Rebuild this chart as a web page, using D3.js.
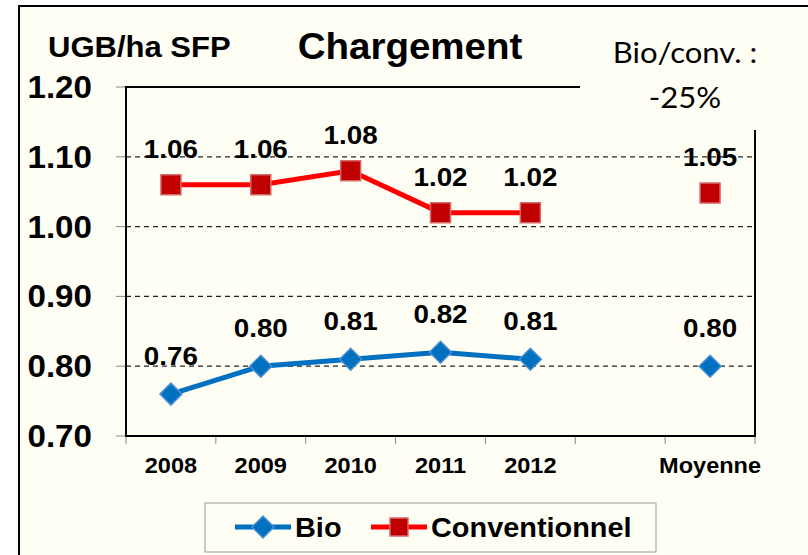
<!DOCTYPE html>
<html>
<head>
<meta charset="utf-8">
<script src="https://cdn.jsdelivr.net/npm/d3@7"></script>
<style>
  body { margin: 0; background: #fff; }
  svg { display: block; }
</style>
</head>
<body>
<div id="chart"></div>
<script>
var categories = ["2008", "2009", "2010", "2011", "2012", "", "Moyenne"]
var bio = [0.76, 0.80, 0.81, 0.82, 0.81, null, 0.80]
var conv = [1.06, 1.06, 1.08, 1.02, 1.02, null, 1.048]
var yTicks = [0.70, 0.80, 0.90, 1.00, 1.10, 1.20]
var seriesNames = ["Bio", "Conventionnel"]

var width = 808,
    height = 555,
    bg = "#fffef4",
    font = "'Liberation Sans', Arial, sans-serif",
    sx = 1.07   // text in the source looks slightly stretched

var svg = d3.select("#chart").append("svg")
    .attr("width", width)
    .attr("height", height)

// slide frame
svg.append("rect").attr("width", width).attr("height", height).attr("fill", "#fff")
svg.append("rect")
    .attr("x", 19).attr("y", 6)
    .attr("width", width + 10).attr("height", height + 10)
    .attr("fill", bg).attr("stroke", "#000").attr("stroke-width", 2)

var x = d3.scaleBand()
    .domain(categories)
    .range([126, 755])
    .padding(0)

var y = d3.scaleLinear()
    .domain([0.7, 1.2])
    .range([436, 87])

var fmt = d3.format(".2f")

// draws text at (px,py), stretched a bit horizontally
function txt(g, s, px, py, size, anchor, weight, family) {
  return g.append("text")
      .attr("transform", "translate(" + px + "," + py + ") scale(" + sx + ",1)")
      .attr("text-anchor", anchor || "middle")
      .attr("font-family", family || font)
      .attr("font-weight", weight || "bold")
      .attr("font-size", size)
      .attr("fill", "#000")
      .text(s)
}

// gridlines
svg.append("g").selectAll("line.grid")
    .data(yTicks.filter(function(d) { return d > 0.7 }))
  .enter().append("line")
    .attr("class", "grid")
    .attr("x1", x.range()[0]).attr("x2", x.range()[1])
    .attr("y1", function(d) { return y(d) }).attr("y2", function(d) { return y(d) })
    .attr("stroke", "#222").attr("stroke-width", 1.3)
    .attr("stroke-dasharray", "5,4")

// y axis ticks + labels
var yAxis = svg.append("g")
yAxis.selectAll("line")
    .data(yTicks)
  .enter().append("line")
    .attr("x1", 116).attr("x2", 126)
    .attr("y1", function(d) { return y(d) }).attr("y2", function(d) { return y(d) })
    .attr("stroke", "#888").attr("stroke-width", 1)
yTicks.forEach(function(d) {
  txt(yAxis, fmt(d), 92, y(d) + 11, 31, "end")
})

// x ticks + labels
var edges = categories.map(function(c) { return x(c) }).concat([x.range()[1]])
svg.append("g").selectAll("line")
    .data(edges)
  .enter().append("line")
    .attr("x1", function(d) { return d }).attr("x2", function(d) { return d })
    .attr("y1", 436).attr("y2", 444)
    .attr("stroke", "#888").attr("stroke-width", 1)
var xLab = svg.append("g")
categories.forEach(function(c) {
  if (c) txt(xLab, c, x(c) + x.bandwidth() / 2, 473, 22)
})

// plot border
svg.append("rect")
    .attr("x", 126).attr("y", 87)
    .attr("width", 755 - 126).attr("height", 436 - 87)
    .attr("fill", "none").attr("stroke", "#000").attr("stroke-width", 2)

var cx = function(d, i) { return x(categories[i]) + x.bandwidth() / 2 }

// lines, only over the years (Moyenne stands alone)
var line = d3.line()
    .defined(function(d) { return d != null })
    .x(cx)
    .y(function(d) { return y(d) })

svg.append("path")
    .datum(conv.slice(0, 5))
    .attr("d", line)
    .attr("fill", "none").attr("stroke", "#ff0000").attr("stroke-width", 5)

svg.append("path")
    .datum(bio.slice(0, 5))
    .attr("d", line)
    .attr("fill", "none").attr("stroke", "#0070c0").attr("stroke-width", 5)

var square = d3.symbol().type(d3.symbolSquare).size(400)
var diamond = "M0,-11L11,0L0,11L-11,0Z"

var mk = svg.append("g")
conv.forEach(function(d, i) {
  if (d == null) return
  mk.append("path")
      .attr("transform", "translate(" + cx(d, i) + "," + y(d) + ")")
      .attr("d", square)
      .attr("fill", "#c00000").attr("stroke", "#d46a6a").attr("stroke-width", 1.5)
})
bio.forEach(function(d, i) {
  if (d == null) return
  mk.append("path")
      .attr("transform", "translate(" + cx(d, i) + "," + y(d) + ")")
      .attr("d", diamond)
      .attr("fill", "#0070c0").attr("stroke", "#4f8fd0").attr("stroke-width", 1.5)
})

// data labels
var labels = svg.append("g")
conv.forEach(function(d, i) {
  if (d != null) txt(labels, fmt(d), cx(d, i), y(d) - 27, 26)
})
bio.forEach(function(d, i) {
  if (d != null) txt(labels, fmt(d), cx(d, i), y(d) - 29, 26)
})

// note box covering the top right corner
svg.append("rect")
    .attr("x", 580).attr("y", 8)
    .attr("width", 240).attr("height", 122)
    .attr("fill", bg)
txt(svg, "Bio/conv. :", 685, 63, 29, "middle", "normal", "Lato, 'Open Sans', sans-serif")
txt(svg, "-25%", 685, 108, 29, "middle", "normal", "Lato, 'Open Sans', sans-serif")

// titles
txt(svg, "UGB/ha SFP", 48, 57, 29, "start")
txt(svg, "Chargement", 410, 59, 36)

// legend
var lg = svg.append("g")
lg.append("rect")
    .attr("x", 205).attr("y", 503)
    .attr("width", 451).attr("height", 49)
    .attr("fill", bg).attr("stroke", "#a8a8a8").attr("stroke-width", 1.2)
lg.append("line")
    .attr("x1", 235).attr("x2", 291).attr("y1", 527).attr("y2", 527)
    .attr("stroke", "#0070c0").attr("stroke-width", 5)
lg.append("path")
    .attr("transform", "translate(263,527)")
    .attr("d", diamond)
    .attr("fill", "#0070c0").attr("stroke", "#4f8fd0").attr("stroke-width", 1.5)
txt(lg, seriesNames[0], 295, 537, 27, "start")
lg.append("line")
    .attr("x1", 371).attr("x2", 427).attr("y1", 527).attr("y2", 527)
    .attr("stroke", "#ff0000").attr("stroke-width", 5)
lg.append("path")
    .attr("transform", "translate(399,527)")
    .attr("d", d3.symbol().type(d3.symbolSquare).size(324))
    .attr("fill", "#c00000").attr("stroke", "#d46a6a").attr("stroke-width", 1.5)
txt(lg, seriesNames[1], 431, 537, 27, "start")
</script>
</body>
</html>
